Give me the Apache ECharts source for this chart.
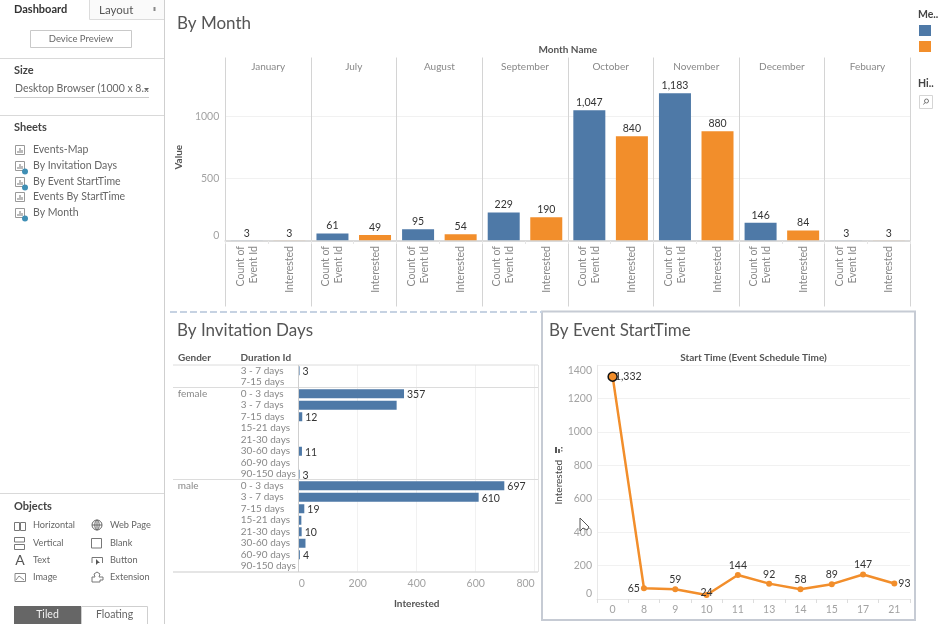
<!DOCTYPE html>
<html><head><meta charset="utf-8">
<style>html,body{margin:0;padding:0;background:#fff;overflow:hidden}#c{width:941px;height:624px}</style>
<script src="https://cdn.jsdelivr.net/npm/echarts@6/dist/echarts.min.js"></script>
</head><body><div id="c"></div>
<script>
// ---- data ----
const months = ["January","July","August","September","October","November","December","Febuary"];
const countOfEventId = [3,61,95,229,1047,1183,146,3];
const interestedByMonth = [3,49,54,190,840,880,84,3];
const measureLabels = ["Count of\nEvent Id","Interested"];
const durations = ["3 - 7 days","7-15 days",
  "0 - 3 days","3 - 7 days","7-15 days","15-21 days","21-30 days","30-60 days","60-90 days","90-150 days",
  "0 - 3 days","3 - 7 days","7-15 days","15-21 days","21-30 days","30-60 days","60-90 days","90-150 days"];
const genders = ["","","female","","","","","","","","male","","","","","","",""];
const interestedByDuration = [3,null,357,332,12,null,null,11,null,3,697,610,19,9,10,23,4,null];
const unlabelledDurationRows = [3,13,15];
const startHours = ["0","8","9","10","11","13","14","15","17","21"];
const interestedByHour = [1332,65,59,24,144,92,58,89,147,93];
const sheets = ["Events-Map","By Invitation Days","By Event StartTime","Events By StartTime","By Month"];
const usedSheets = ["By Invitation Days","By Event StartTime","By Month"];
const objectsLeft = ["Horizontal","Vertical","Text","Image"];
const objectsRight = ["Web Page","Blank","Button","Extension"];

const FONT = "Lato, 'Open Sans', sans-serif";
const BLUE = "#4e79a7", ORANGE = "#f28e2b";
const RULE = "#d4d4d4", FAINT = "#f1f1f1", TICK = "#a3a3a3", BAR_TXT = "#333", HEAD = "#555";

// ---- chrome helpers ----
const g = [];
const txt = (x,y,text,o={}) => g.push({type:"text",x,y:y+1,silent:true,z:o.z||5,style:{text,fill:o.fill||"#666",font:`${o.weight||"normal"} ${o.size||10.5}px ${FONT}`,textAlign:o.align||"left",textVerticalAlign:"middle"}});
const line = (x1,y1,x2,y2,stroke="#d9d9d9",w=1,dash) => g.push({type:"line",silent:true,z:3,shape:{x1,y1,x2,y2},style:{stroke,lineWidth:w,lineDash:dash}});
const rect = (x,y,w,h,fill,stroke,lw=1,z=1) => g.push({type:"rect",silent:true,z,shape:{x,y,width:w,height:h},style:{fill:fill||"transparent",stroke:stroke||null,lineWidth:lw}});
const poly = (points,fill,stroke,z=4,closed=true) => g.push({type:closed?"polygon":"polyline",silent:true,z,shape:{points},style:{fill:fill||"transparent",stroke:stroke||null,lineWidth:1}});

// left sidebar
rect(89.5,0,75,19.5,"#fafafa",null);
line(89.5,0,89.5,19.5,"#dcdcdc"); line(89.5,19.5,164,19.5,"#dcdcdc");
line(164.5,0,164.5,624,"#cfcfcf");
txt(14,8.5,"Dashboard",{weight:"bold",fill:"#333",size:11});
txt(99,9,"Layout",{size:11.5,fill:"#555"});
rect(153.5,7,2,4,"#888",null,1,4);
rect(30.5,30.5,101,17,"#fff","#c9c9c9");
txt(81,37.5,"Device Preview",{align:"center",fill:"#666",size:9.5});
line(0,58.5,164,58.5);
txt(14,69,"Size",{weight:"bold",fill:"#444",size:11});
txt(15,88,"Desktop Browser (1000 x 8...",{size:10.5,fill:"#666"});
poly([[144,88],[149,88],[146.5,91]],"#666");
line(14,97.5,149,97.5,"#cccccc");
line(0,115.5,164,115.5);
txt(14,126,"Sheets",{weight:"bold",fill:"#444",size:11});
const sheetY = [150,166,182,197,213];
sheets.forEach((s,i)=>{
  const y = sheetY[i];
  rect(15.5,y-4.5,9,9,"#fff","#999");
  [[18,2],[20,5],[22,3]].forEach(([x,h])=>line(x,y+3,x,y+3-h,"#777"));
  if (usedSheets.includes(s)) g.push({type:"circle",silent:true,z:4,shape:{cx:25,cy:y+5.5,r:3},style:{fill:"#3f8fb5"}});
  txt(33,y-1,s,{size:10.5,fill:"#666"});
});
line(0,493.5,164,493.5);
txt(14,505,"Objects",{weight:"bold",fill:"#444",size:11});
const objY = [525,543,560,577];
objectsLeft.forEach((s,i)=>txt(33,objY[i]-1,s,{size:9.2,fill:"#666"}));
objectsRight.forEach((s,i)=>txt(110,objY[i]-1,s,{size:9.2,fill:"#666"}));
rect(14.5,522.5,5,8,null,"#777"); rect(20.5,522.5,5,8,null,"#777");
rect(14.5,537.5,10,4.5,null,"#777"); rect(14.5,544.5,10,5,null,"#777");
txt(20,559,"A",{size:14,fill:"#555",align:"center"});
rect(15,573.5,10.5,8,null,"#888");
line(16,580,19,576,"#888"); line(19,576,24,580,"#888");
g.push({type:"circle",silent:true,shape:{cx:97,cy:525,r:5},style:{fill:"transparent",stroke:"#666"}});
line(92,525,102,525,"#666"); line(97,520,97,530,"#666");
g.push({type:"ellipse",silent:true,shape:{cx:97,cy:525,rx:2.2,ry:5},style:{fill:"transparent",stroke:"#666"}});
rect(91.5,538.5,10,9.5,null,"#777");
poly([[92,563],[92,557.5],[102.5,557.5],[102.5,563]],null,"#777",4,false);
poly([[96,559],[96,565],[98,563],[100,563]],"#555",null);
poly([[92,582],[92,577],[95,577],[94,574],[97,572],[100,574],[99,577],[103,577],[103,580],[100,580],[100,582],[92,582]],null,"#777",4,false);
rect(14,606,67,18,"#666666",null);
txt(47.5,614,"Tiled",{align:"center",fill:"#f2f2f2",size:10.5});
rect(81.5,606.5,66,18,"#fff","#cfcfcf");
txt(114.5,614,"Floating",{align:"center",fill:"#666",size:10.5});

// titles
txt(177,23,"By Month",{size:17,fill:"#555"});
txt(177,329.5,"By Invitation Days",{size:17,fill:"#555"});
txt(549,329.5,"By Event StartTime",{size:17,fill:"#555"});

// dashed divider and selected panel
line(170,312,542,312,"#c6d2e2",2,[7,3]);
rect(542,311.5,373,308.5,null,"#c6cbd4",2,2);

// invitation table rules
txt(178,357,"Gender",{weight:"bold",fill:HEAD,size:10});
txt(240.5,357,"Duration Id",{weight:"bold",fill:HEAD,size:10});
[365,387.5,479.5,572].forEach(y=>line(173,y,538,y,"#dcdcdc",y===572?1.5:1));
line(538.5,365,538.5,572,"#e4e4e4");
line(298.5,365,298.5,572,"#cfcfcf");

// legend heading, highlight box
txt(918,14,"Me..",{weight:"bold",fill:"#444",size:10.5});
txt(918,83,"Hi..",{weight:"bold",fill:"#444",size:10.5});
rect(919.5,95.5,13,13,"#fff","#d5d5d5");
g.push({type:"circle",silent:true,z:4,shape:{cx:926.5,cy:101,r:2},style:{fill:"transparent",stroke:"#777"}});
line(925,102.5,923.5,104.5,"#777");

// sort glyph on the line chart axis
rect(555,447,2,6,"#555",null,1,4); rect(558,449,2,4,"#666",null,1,4); rect(561,447,1.5,1.5,"#666",null,1,4); rect(561,450,1.5,1.5,"#888",null,1,4);

// mouse pointer
poly([[580,518],[580,531],[583,528],[587,530],[589,527]],"#fff","#555",20);

// ---- option ----
const measureAxisData = months.flatMap(()=>measureLabels);
const axisName = {color:HEAD,fontWeight:"bold",fontSize:10,fontFamily:FONT};
const labelGrey = {color:TICK,fontSize:10.5,fontFamily:FONT,formatter:v=>String(v)};
const valueLabel = {show:true,color:BAR_TXT,fontSize:10.5,fontFamily:FONT};
const hourLabel = {
  0:{position:"right",distance:0,offset:[-3,0]},
  1:{position:"left",distance:1},
  2:{position:"top",distance:1},
  3:{position:"top",distance:0,offset:[0,6]},
  9:{position:"right",distance:1}
};

const option = {
  animation:false,
  textStyle:{fontFamily:FONT},
  graphic:g,
  legend:{
    show:true,orient:"vertical",left:914,top:20,itemWidth:12,itemHeight:11,itemGap:5,
    data:["Count of Event Id","Interested"],formatter:()=>"",selectedMode:false,icon:"rect"
  },
  grid:[
    {left:225.3,top:73.5,width:685,height:167.5},          // month bars
    {left:225.3,top:57.5,width:685,height:249},            // month panel rules
    {left:298.7,top:365,width:236,height:207},             // duration bars
    {left:597,top:365.3,width:313,height:233.7}            // hour line
  ],
  xAxis:[
    {gridIndex:0,type:"category",position:"top",data:months,name:"Month Name",nameLocation:"middle",nameGap:19,nameTextStyle:axisName,
      axisLine:{lineStyle:{color:"#d9d9d9",width:1.5}},axisTick:{show:false},
      axisLabel:{color:"#888",fontSize:10,fontFamily:FONT,margin:2,interval:0},splitLine:{show:false}},
    {gridIndex:0,type:"category",position:"bottom",data:measureAxisData,z:5,
      axisLine:{lineStyle:{color:"#d9d9d9",width:1.5},onZero:false},axisTick:{show:true,length:3,lineStyle:{color:"#e6e6e6"}},
      axisLabel:{rotate:90,interval:0,margin:5,color:"#888",fontSize:10.5,lineHeight:13,fontFamily:FONT}},
    {gridIndex:1,type:"category",data:months,axisLine:{show:false},axisTick:{show:false},axisLabel:{show:false},
      splitLine:{show:true,interval:0,lineStyle:{color:RULE,width:1}}},
    {gridIndex:2,type:"value",min:0,max:800,interval:200,name:"Interested",nameLocation:"middle",nameGap:27,nameTextStyle:axisName,
      axisLine:{show:false},axisTick:{show:false},
      axisLabel:{...labelGrey,margin:6,alignMinLabel:"left",alignMaxLabel:"right"},
      splitLine:{show:true,lineStyle:{color:FAINT}}},
    {gridIndex:3,type:"category",data:startHours,
      axisLine:{lineStyle:{color:"#e8e8e8"}},axisTick:{show:true,length:4,lineStyle:{color:"#dddddd"}},
      axisLabel:{...labelGrey,margin:5,interval:0}},
    {gridIndex:3,type:"category",position:"top",data:startHours,name:"Start Time (Event Schedule Time)",nameLocation:"middle",nameGap:3,nameTextStyle:axisName,
      axisLine:{show:false},axisTick:{show:false},axisLabel:{show:false}}
  ],
  yAxis:[
    {gridIndex:0,type:"value",min:0,max:1342,interval:500,name:"Value",nameLocation:"middle",nameGap:29,nameTextStyle:axisName,
      axisLine:{show:false},axisTick:{show:false},
      axisLabel:{...labelGrey,margin:6,showMaxLabel:false,verticalAlignMinLabel:"bottom"},
      splitLine:{show:true,showMaxLine:false,lineStyle:{color:FAINT}}},
    {gridIndex:1,type:"value",show:false,min:0,max:1},
    {gridIndex:2,type:"category",inverse:true,data:durations,
      axisLine:{show:false},axisTick:{show:false},
      axisLabel:{align:"left",margin:58,interval:0,color:"#888",fontSize:10,fontFamily:FONT}},
    {gridIndex:2,type:"category",inverse:true,data:genders,position:"left",
      axisLine:{show:false},axisTick:{show:false},
      axisLabel:{align:"left",margin:121,interval:0,color:"#888",fontSize:10,fontFamily:FONT}},
    {gridIndex:3,type:"value",min:0,max:1400,interval:200,name:"Interested",nameLocation:"middle",nameGap:33,nameTextStyle:{...axisName,fontWeight:"normal",color:"#444"},
      axisLine:{show:true,lineStyle:{color:"#e8e8e8"}},axisTick:{show:false},
      axisLabel:{...labelGrey,margin:5,verticalAlignMinLabel:"bottom",verticalAlignMaxLabel:"top"},
      splitLine:{show:true,lineStyle:{color:FAINT}}}
  ],
  series:[
    {name:"Count of Event Id",type:"bar",xAxisIndex:0,yAxisIndex:0,data:countOfEventId,barWidth:32,barGap:"33%",
      itemStyle:{color:BLUE},label:{...valueLabel,position:"top",distance:2,formatter:p=>p.value.toLocaleString("en-US")}},
    {name:"Interested",type:"bar",xAxisIndex:0,yAxisIndex:0,data:interestedByMonth,barWidth:32,barGap:"33%",
      itemStyle:{color:ORANGE},label:{...valueLabel,position:"top",distance:2,formatter:p=>p.value.toLocaleString("en-US")}},
    {name:"Interested by duration",type:"bar",xAxisIndex:3,yAxisIndex:2,barWidth:9,
      data:interestedByDuration.map((value,i)=>({value,label:{show:value!==null&&!unlabelledDurationRows.includes(i)}})),
      itemStyle:{color:BLUE},label:{...valueLabel,position:"right",distance:3,offset:[0,1]}},
    {name:"Interested by hour",type:"line",xAxisIndex:4,yAxisIndex:4,symbol:"circle",symbolSize:6,
      lineStyle:{color:ORANGE,width:2.5},itemStyle:{color:ORANGE},
      label:{...valueLabel,position:"top",distance:1,formatter:p=>p.value.toLocaleString("en-US")},
      data:interestedByHour.map((value,i)=>({value,label:hourLabel[i]||{},
        ...(i===0?{symbolSize:9,itemStyle:{color:ORANGE,borderColor:"#111",borderWidth:1.5}}:{})}))}
  ]
};
echarts.init(document.getElementById("c")).setOption(option);
</script></body></html>
